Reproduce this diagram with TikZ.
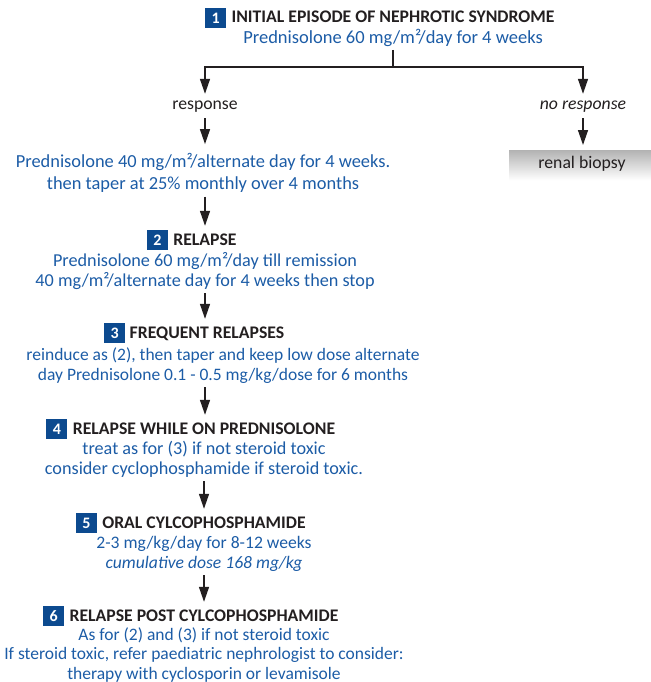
\documentclass[tikz,border=0pt]{standalone}
\usepackage{fontspec}
\setmainfont{Carlito}
\usetikzlibrary{arrows.meta,calc}
\definecolor{txtblue}{RGB}{28,92,166}
\definecolor{badgeblue}{RGB}{12,74,143}
\definecolor{darktxt}{RGB}{35,31,32}
\begin{document}
\begin{tikzpicture}[x=1pt,y=-1pt,
 body/.style={font=\fontsize{18.2}{19.5}\selectfont, text=txtblue, align=center, inner sep=0pt, anchor=base},
 head/.style={font=\bfseries\fontsize{17.7}{19}\selectfont, text=darktxt, inner sep=0pt, text height=15pt, text depth=4pt, anchor=base},
 badge/.style={fill=badgeblue, text=white, font=\bfseries\fontsize{16}{18}\selectfont, minimum width=21pt, minimum height=20pt, inner sep=0pt, anchor=north east},
 lbl/.style={font=\fontsize{17.7}{19}\selectfont, text=darktxt, inner sep=0pt, text height=11pt, text depth=4pt, anchor=base},
 conn/.style={draw=darktxt, line width=1.4pt},
 flow/.style={conn, -{Triangle[length=15pt,width=10pt]}, shorten <=4pt, shorten >=4pt},
]
\useasboundingbox (0,0) rectangle (650,682);

% block 1
\node[head] (h1) at (393,23) {INITIAL EPISODE OF NEPHROTIC SYNDROME};
\node[badge] (b1) at ([xshift=-5pt]h1.north west) {1};
\node[body, font=\fontsize{18.5}{19.5}\selectfont] (t1) at (393,43.5) {Prednisolone 60 mg/m²/day for 4 weeks};
\coordinate (j) at (393,67);
\draw[conn, shorten <=3pt] (t1.south) -- (j);

\node[lbl] (resp) at (205,110) {response};
\node[lbl, font=\itshape\fontsize{17.7}{19}\selectfont] (nresp) at (583,110) {no response};
\draw[flow, shorten <=0pt, shorten >=5pt] (j) -| (resp.north);
\draw[flow, shorten <=0pt, shorten >=5pt] (j) -| (nresp.north);

\node[body, font=\fontsize{18.4}{22}\selectfont] (p40) at (203,189.5) {Prednisolone 40 mg/m²/alternate day for 4 weeks.\\then taper at 25\% monthly over 4 months};
\draw[flow, shorten >=9pt] (resp.south) -- (resp.south |- p40.north);

\node[lbl, top color=gray!60, bottom color=white, minimum width=146pt, minimum height=30pt, anchor=north] (rb) at (582,150) {renal biopsy};
\draw[flow, shorten >=5pt] (nresp.south) -- (nresp.south |- rb.north);

% block 2
\node[head] (h2) at (205,245) {RELAPSE};
\node[badge] (b2) at ([xshift=-5pt]h2.north west) {2};
\node[body] (t2) at (205,286) {Prednisolone 60 mg/m²/day till remission\\40 mg/m²/alternate day for 4 weeks then stop};
\draw[flow] (resp.south |- p40.south) -- (h2.north);

% block 3
\node[head] (h3) at (207,338) {FREQUENT RELAPSES};
\node[badge] (b3) at ([xshift=-4pt]h3.north west) {3};
\node[body, font=\fontsize{17.5}{19.5}\selectfont] (t3) at (223,380) {reinduce as (2), then taper and keep low dose alternate\\day Prednisolone 0.1 - 0.5 mg/kg/dose for 6 months};
\draw[flow] (t2.south) -- (t2.south |- h3.north);

% block 4
\node[head] (h4) at (204,434) {RELAPSE WHILE ON PREDNISOLONE};
\node[badge] (b4) at ([xshift=-5pt]h4.north west) {4};
\node[body] (t4) at (204,474) {treat as for (3) if not steroid toxic\\consider cyclophosphamide if steroid toxic.};
\draw[flow] (t2.south |- t3.south) -- (t2.south |- h4.north);

% block 5
\node[head] (h5) at (204,528) {ORAL CYLCOPHOSPHAMIDE};
\node[badge] (b5) at ([xshift=-5pt]h5.north west) {5};
\node[body, font=\fontsize{17.6}{19.5}\selectfont] (t5) at (204,568) {2-3 mg/kg/day for 8-12 weeks\\\textit{cumulative dose 168 mg/kg}};
\draw[flow] (t4.south) -- (h5.north);

% block 6
\node[head] (h6) at (204,621) {RELAPSE POST CYLCOPHOSPHAMIDE};
\node[badge] (b6) at ([xshift=-5pt]h6.north west) {6};
\node[body, font=\fontsize{17.5}{19.5}\selectfont] (t6) at (204,679) {As for (2) and (3) if not steroid toxic\\If steroid toxic, refer paediatric nephrologist to consider:\\therapy with cyclosporin or levamisole};
\draw[flow] (t5.south) -- (h6.north);
\end{tikzpicture}
\end{document}
